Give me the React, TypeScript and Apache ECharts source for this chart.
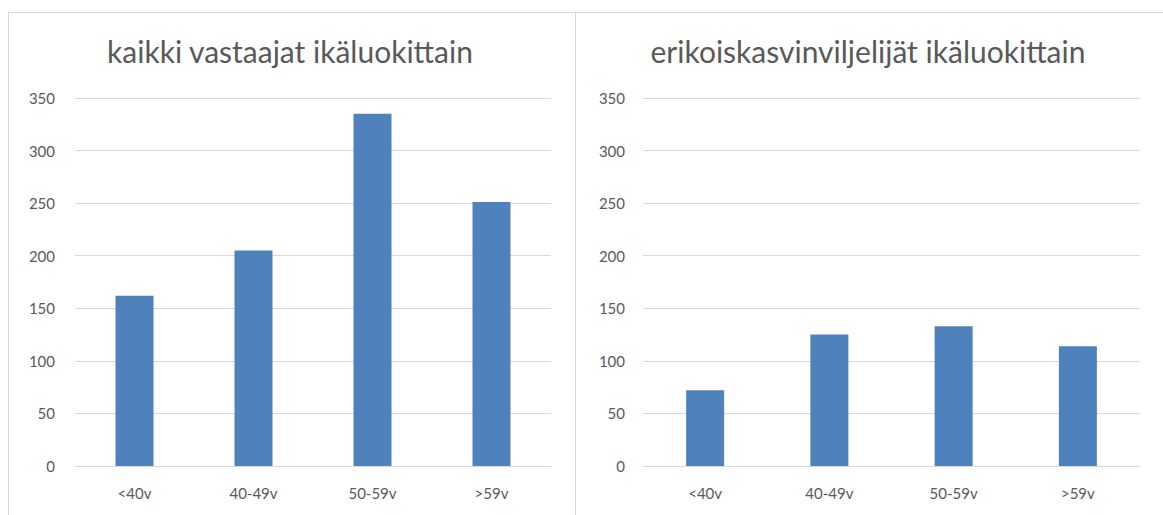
import React, { useEffect, useRef } from "react";
import * as echarts from "echarts";

const categories = ["<40v", "40-49v", "50-59v", ">59v"];
const allRespondents = [162, 205, 335, 251];
const specialCrop = [72, 125, 133, 114];
const titles = ["kaikki vastaajat ikäluokittain", "erikoiskasvinviljelijät ikäluokittain"];
const yTicks = { min: 0, max: 350, interval: 50 };

const FONT = "Lato, 'Open Sans', sans-serif";
const TEXT = "#595959";
const GRID = "#d9d9d9";
const BAR = "#4f81bd";

export default function App() {
  const ref = useRef<HTMLDivElement>(null);
  useEffect(() => {
    if (!ref.current) return;
    const chart = echarts.init(ref.current, null, { renderer: "svg" });
    const xAxis = (i: number) => ({
      type: "category",
      gridIndex: i,
      data: categories,
      axisLine: { lineStyle: { color: GRID, width: 1 } },
      axisTick: { show: false },
      axisLabel: { color: TEXT, fontSize: 15, fontFamily: FONT, margin: 19 },
    });
    const yAxis = (i: number, margin: number) => ({
      type: "value",
      gridIndex: i,
      min: yTicks.min,
      max: yTicks.max,
      interval: yTicks.interval,
      axisLine: { show: false },
      axisTick: { show: false },
      axisLabel: { color: TEXT, fontSize: 15, fontFamily: FONT, margin },
      splitLine: { lineStyle: { color: GRID, width: 1 } },
    });
    chart.setOption({
      animation: false,
      backgroundColor: "#ffffff",
      grid: [
        { left: 75, right: 612, top: 98, bottom: 49 },
        { left: 643, right: 23, top: 98, bottom: 49 },
      ],
      xAxis: [xAxis(0), xAxis(1)],
      yAxis: [yAxis(0, 20), yAxis(1, 18)],
      series: [
        { type: "bar", xAxisIndex: 0, yAxisIndex: 0, data: allRespondents, barWidth: 38, itemStyle: { color: BAR } },
        { type: "bar", xAxisIndex: 1, yAxisIndex: 1, data: specialCrop, barWidth: 38, itemStyle: { color: BAR } },
      ],
      graphic: [
        { type: "line", shape: { x1: 8, y1: 12.5, x2: 1163, y2: 12.5 }, style: { stroke: GRID, lineWidth: 1 }, silent: true },
        { type: "line", shape: { x1: 8.5, y1: 12, x2: 8.5, y2: 515 }, style: { stroke: GRID, lineWidth: 1 }, silent: true },
        { type: "line", shape: { x1: 575.5, y1: 12, x2: 575.5, y2: 515 }, style: { stroke: GRID, lineWidth: 1 }, silent: true },
        {
          type: "text",
          x: 290,
          y: 51,
          style: { text: titles[0], fill: TEXT, font: `30px ${FONT}`, align: "center", verticalAlign: "middle" },
        },
        {
          type: "text",
          x: 868,
          y: 51,
          style: { text: titles[1], fill: TEXT, font: `30px ${FONT}`, align: "center", verticalAlign: "middle" },
        },
      ],
    });
    return () => chart.dispose();
  }, []);
  return <div ref={ref} style={{ position: "fixed", left: 0, top: 0, width: 1163, height: 515 }} />;
}
